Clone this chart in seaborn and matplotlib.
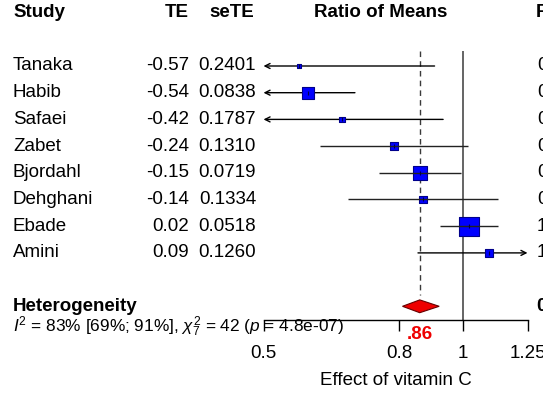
import numpy as np
import pandas as pd
import seaborn as sns
import matplotlib
matplotlib.use("Agg")
import matplotlib.pyplot as plt
from matplotlib import transforms

# data
studies = ["Tanaka", "Habib", "Safaei", "Zabet", "Bjordahl", "Dehghani", "Ebade", "Amini"]
te = [-0.57, -0.54, -0.42, -0.24, -0.15, -0.14, 0.02, 0.09]
se_te = [0.2401, 0.0838, 0.1787, 0.1310, 0.0719, 0.1334, 0.0518, 0.1260]
pooled_rom = 0.86
pooled_lo = 0.81
pooled_hi = 0.92
pooled_label = ".86"
het_label = "Heterogeneity"
het_stats = r"$\mathit{I}^2$ = 83% [69%; 91%], $\chi^2_7$ = 42 ($\mathit{p}$ = 4.8e-07)"
x_ticks = [0.5, 0.8, 1, 1.25]
x_ticklabels = ["0.5", "0.8", "1", "1.25"]
x_label = "Effect of vitamin C"
col_headers = ["Study", "TE", "seTE", "Ratio of Means", "ROM"]

sns.set_style("white")
plt.rcParams["font.family"] = ["Liberation Sans", "DejaVu Sans"]
plt.rcParams["mathtext.fontset"] = "custom"
plt.rcParams["mathtext.rm"] = "Liberation Sans"
plt.rcParams["mathtext.it"] = "Liberation Sans:italic"
plt.rcParams["mathtext.bf"] = "Liberation Sans:bold"
plt.rcParams["text.color"] = "black"
plt.rcParams["axes.labelcolor"] = "black"
plt.rcParams["xtick.color"] = "black"

df = pd.DataFrame({"study": studies, "te": te, "se": se_te})
df["rom"] = np.exp(df["te"])
df["lo"] = np.exp(df["te"] - 1.96 * df["se"])
df["hi"] = np.exp(df["te"] + 1.96 * df["se"])
df["w"] = 1 / df["se"] ** 2
df["row"] = np.arange(len(df))

W, H = 543, 399
row_top_px = 66
row_gap_px = 26.7
axis_px = 320
head_row = -2
het_row = len(df) + 1
fs = 13.5

fig = plt.figure(figsize=(W / 100, H / 100), dpi=100)
ax = fig.add_axes([263.5 / W, 1 - axis_px / H, (527.5 - 263.5) / W, axis_px / H])
ax.set_xscale("log")
xmin, xmax = 0.5, 1.25
ax.set_xlim(xmin, xmax)
ax.set_ylim((axis_px - row_top_px) / row_gap_px, -row_top_px / row_gap_px)

# reference lines
ax.vlines(1, -0.55, (axis_px - row_top_px) / row_gap_px, color="#3a3a3a", lw=1.1, zorder=1)
ax.vlines(pooled_rom, -0.55, het_row - 0.42, color="#3a3a3a", lw=1, linestyles=(0, (4, 3)), zorder=1)

# confidence intervals, with arrows where they leave the axis
for _, r in df.iterrows():
    lo, hi = max(r["lo"], xmin), min(r["hi"], xmax)
    if r["lo"] < xmin:
        ax.annotate("", xy=(lo, r["row"]), xytext=(hi, r["row"]),
                    arrowprops=dict(arrowstyle="->", color="black", lw=1,
                                    shrinkA=0, shrinkB=0, mutation_scale=9))
    elif r["hi"] > xmax:
        ax.annotate("", xy=(hi, r["row"]), xytext=(lo, r["row"]),
                    arrowprops=dict(arrowstyle="->", color="black", lw=1,
                                    shrinkA=0, shrinkB=0, mutation_scale=9))
    else:
        ax.hlines(r["row"], lo, hi, color="#222222", lw=1, zorder=4)

# weight squares, area proportional to inverse variance
k = 0.5184
sns.scatterplot(data=df, x="rom", y="row", size="w",
                sizes=(k * df["w"].min(), k * df["w"].max()),
                marker="s", color="#0000ff", edgecolor="#00008b", linewidth=0.8,
                legend=False, ax=ax, zorder=3)
ax.scatter(df["rom"], df["row"], marker="|", s=12, color="#000044", lw=0.8, zorder=5)

# pooled diamond
h = 0.24
ax.fill([pooled_lo, pooled_rom, pooled_hi, pooled_rom],
        [het_row, het_row - h, het_row, het_row + h],
        facecolor="#ee0000", edgecolor="#660000", lw=0.8, zorder=3)

for s in ["top", "left", "right"]:
    ax.spines[s].set_visible(False)
ax.spines["bottom"].set_color("black")
ax.spines["bottom"].set_linewidth(1)
ax.set_xticks(x_ticks, labels=x_ticklabels)
ax.xaxis.set_minor_locator(matplotlib.ticker.NullLocator())
ax.tick_params(axis="x", direction="out", length=8, width=1, color="black",
               labelsize=fs, pad=10, bottom=True)
ax.set_yticks([])
ax.set_xlabel(x_label, fontsize=fs, labelpad=7)
ax.set_ylabel("")
ax.patch.set_alpha(0)

# table columns
tr = transforms.blended_transform_factory(fig.transFigure, ax.transData)
col_study, col_te, col_se, col_rom = 13 / W, 189 / W, 256 / W, 536 / W
ax.text(col_study, head_row, col_headers[0], transform=tr, fontsize=fs, weight="bold", va="center", ha="left")
ax.text(col_te, head_row, col_headers[1], transform=tr, fontsize=fs, weight="bold", va="center", ha="right")
ax.text(254 / W, head_row, col_headers[2], transform=tr, fontsize=fs, weight="bold", va="center", ha="right")
ax.text(381 / W, head_row, col_headers[3], transform=tr, fontsize=fs, weight="bold", va="center", ha="center")
ax.text(col_rom, head_row, col_headers[4], transform=tr, fontsize=fs, weight="bold", va="center", ha="left")

for _, r in df.iterrows():
    ax.text(col_study, r["row"], r["study"], transform=tr, fontsize=fs, va="center", ha="left")
    ax.text(col_te, r["row"], f"{r['te']:.2f}", transform=tr, fontsize=fs, va="center", ha="right")
    ax.text(col_se, r["row"], f"{r['se']:.4f}", transform=tr, fontsize=fs, va="center", ha="right")
    ax.text(col_rom + 1 / W, r["row"], f"{r['rom']:.2f}", transform=tr, fontsize=fs, va="center", ha="left")

ax.text(col_study, het_row, het_label, transform=tr, fontsize=fs, weight="bold", va="center", ha="left")
ax.text(col_rom, het_row, f"{pooled_rom:.2f}", transform=tr, fontsize=fs, weight="bold", va="center", ha="left")
ax.text(col_study, (327 - row_top_px) / row_gap_px, het_stats, transform=tr, fontsize=12.4, va="center", ha="left")
ax.text(pooled_rom, (335 - row_top_px) / row_gap_px, pooled_label, fontsize=fs, weight="bold",
        color="#ee0000", va="center", ha="center")

fig.savefig("out.png", dpi=100)
